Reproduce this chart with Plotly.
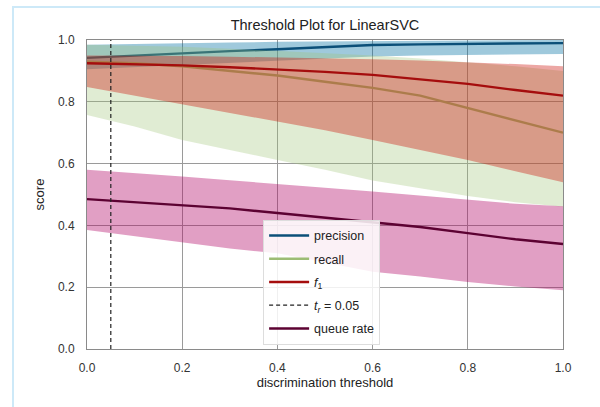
import plotly.graph_objects as go

# Discrimination thresholds
thresholds = [0.0, 0.1, 0.2, 0.3, 0.4, 0.5, 0.6, 0.7, 0.8, 0.9, 1.0]

# Median scores and 10th/90th percentile bands across trials
precision_med = [0.942, 0.950, 0.958, 0.964, 0.970, 0.977, 0.984, 0.986, 0.988, 0.989, 0.990]
precision_hi = [0.985, 0.988, 0.990, 0.992, 0.994, 0.995, 0.996, 0.997, 0.998, 0.999, 1.000]
precision_lo = [0.905, 0.912, 0.920, 0.928, 0.935, 0.942, 0.947, 0.950, 0.952, 0.954, 0.955]

recall_med = [0.930, 0.925, 0.915, 0.900, 0.885, 0.865, 0.845, 0.820, 0.780, 0.740, 0.700]
recall_hi = [0.985, 0.982, 0.978, 0.972, 0.965, 0.958, 0.950, 0.940, 0.928, 0.915, 0.900]
recall_lo = [0.757, 0.720, 0.676, 0.645, 0.612, 0.580, 0.545, 0.520, 0.495, 0.475, 0.460]

f1_med = [0.925, 0.922, 0.918, 0.912, 0.905, 0.897, 0.887, 0.873, 0.858, 0.838, 0.820]
f1_hi = [0.950, 0.950, 0.948, 0.946, 0.944, 0.941, 0.938, 0.934, 0.929, 0.922, 0.915]
f1_lo = [0.848, 0.820, 0.790, 0.762, 0.735, 0.708, 0.676, 0.645, 0.612, 0.575, 0.540]

queue_med = [0.485, 0.475, 0.465, 0.455, 0.440, 0.425, 0.410, 0.395, 0.375, 0.355, 0.340]
queue_hi = [0.580, 0.570, 0.558, 0.546, 0.535, 0.522, 0.510, 0.496, 0.482, 0.470, 0.462]
queue_lo = [0.385, 0.365, 0.343, 0.325, 0.310, 0.280, 0.250, 0.235, 0.217, 0.202, 0.190]

# Chosen queue-rate threshold
threshold_rate = 0.05
score_limits = [0.0, 1.0]

series = [
    ("precision", precision_med, precision_hi, precision_lo, "#0b4f78", "rgba(2,114,162,0.38)", 1),
    ("recall", recall_med, recall_hi, recall_lo, "#9cbc74", "rgba(159,195,119,0.32)", 2),
    ("<i>f</i><sub>1</sub>", f1_med, f1_hi, f1_lo, "#a50d0d", "rgba(202,11,3,0.36)", 3),
    ("queue rate", queue_med, queue_hi, queue_lo, "#5c0232", "rgba(175,2,100,0.38)", 5),
]

fig = go.Figure()

for name, med, hi, lo, line_color, band_color, rank in series:
    group = f"g{rank}"
    fig.add_trace(go.Scatter(x=thresholds, y=hi, mode="lines", line=dict(width=0),
                             showlegend=False, hoverinfo="skip", legendgroup=group))
    fig.add_trace(go.Scatter(x=thresholds, y=lo, mode="lines", line=dict(width=0),
                             fill="tonexty", fillcolor=band_color,
                             showlegend=False, hoverinfo="skip", legendgroup=group))
    fig.add_trace(go.Scatter(x=thresholds, y=med, mode="lines", name=name, legendgroup=group,
                             line=dict(color=line_color, width=2.4), legendrank=rank))

fig.add_trace(go.Scatter(x=[threshold_rate, threshold_rate], y=score_limits, mode="lines",
                         name="<i>t<sub>r</sub></i> = 0.05", legendgroup="g4",
                         line=dict(color="#222222", width=1.2, dash="4px,3px"), legendrank=4))

fig.update_layout(
    width=600, height=407,
    margin=dict(l=87, r=37, t=40, b=58),
    paper_bgcolor="white",
    plot_bgcolor="white",
    font=dict(family="Liberation Sans, Arial, sans-serif", size=12, color="#333333"),
    title=dict(text="Threshold Plot for LinearSVC", x=0.5, xref="paper", xanchor="center",
               y=1 - 25 / 407, yanchor="middle", font=dict(size=14.5, color="#222222")),
    xaxis=dict(range=[0, 1], tickvals=[0, 0.2, 0.4, 0.6, 0.8, 1.0], tickformat=".1f",
               showgrid=True, gridcolor="#9a9a9a", gridwidth=1, zeroline=False,
               showline=True, linecolor="#8a8a8a", linewidth=1, mirror=True,
               ticks="", ticklen=0, ticklabelstandoff=8,
               title=dict(text="discrimination threshold", font=dict(size=13, color="#222222"),
                          standoff=2)),
    yaxis=dict(range=[0, 1], tickvals=[0, 0.2, 0.4, 0.6, 0.8, 1.0], tickformat=".1f",
               showgrid=True, gridcolor="#9a9a9a", gridwidth=1, zeroline=False,
               showline=True, linecolor="#8a8a8a", linewidth=1, mirror=True,
               ticks="", ticklen=0, ticklabelstandoff=9,
               title=dict(text="score", font=dict(size=13, color="#222222"), standoff=10)),
    legend=dict(x=0.37, y=0.418, xanchor="left", yanchor="top", traceorder="grouped",
                bgcolor="rgba(255,255,255,0.85)", bordercolor="#dddddd", borderwidth=1,
                font=dict(size=12.5, color="#222222"), tracegroupgap=4, itemwidth=40),
    shapes=[dict(type="rect", xref="paper", yref="paper",
                 x0=(13 - 87) / 476, x1=(610 - 87) / 476,
                 y0=(349 - 415) / 309, y1=1 + (40 - 7) / 309,
                 line=dict(color="#cde9f8", width=2), layer="below")],
)

fig.write_html("out.html")
